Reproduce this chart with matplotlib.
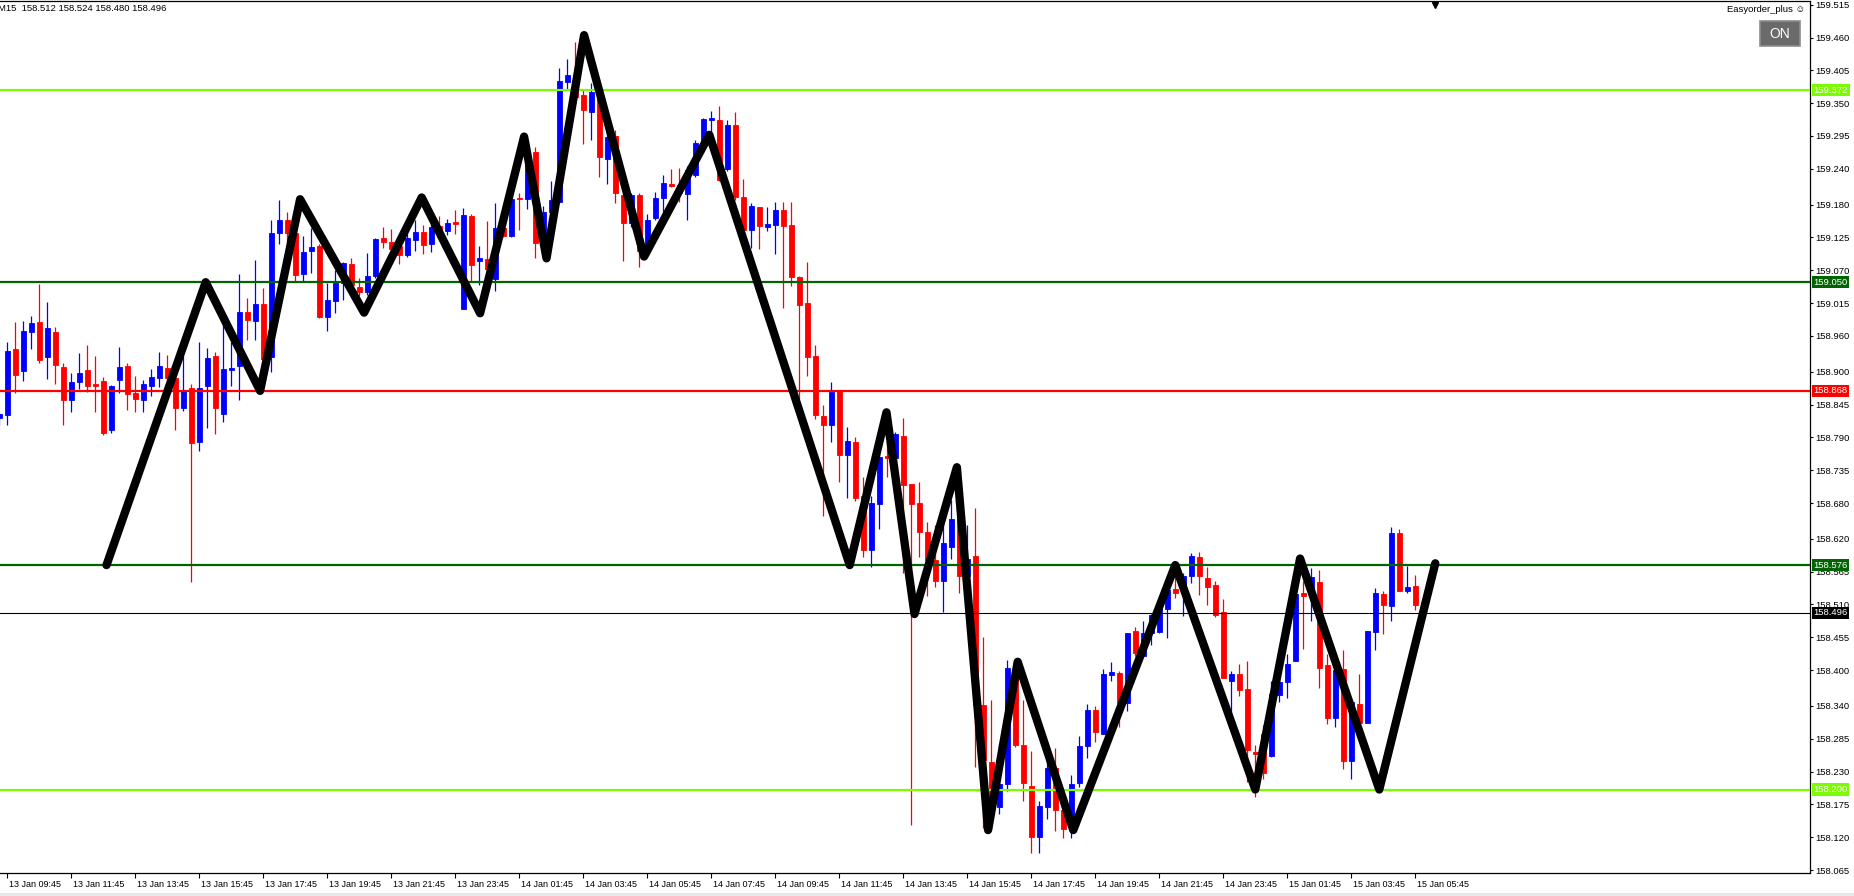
import matplotlib
matplotlib.use('Agg')
import matplotlib.pyplot as plt
import matplotlib.transforms as mtransforms
from matplotlib.patches import Rectangle
import numpy as np

plt.rcParams['font.family'] = ['Liberation Sans', 'DejaVu Sans']

# USDJPY M15 bars, 13 Jan 09:30 .. 15 Jan 06:00
opens = [
    158.822, 158.828, 158.938, 158.901, 158.967, 158.983, 158.925, 158.967, 158.908, 158.853,
    158.882, 158.903, 158.879, 158.885, 158.802, 158.886, 158.910, 158.865, 158.853, 158.876,
    158.889, 158.906, 158.889, 158.839, 158.873, 158.783, 158.876, 158.926, 158.830, 158.903,
    158.910, 159.000, 158.985, 159.014, 158.924, 159.132, 159.154, 159.133, 159.064, 159.102,
    159.111, 158.992, 159.019, 159.049, 159.080, 159.042, 159.034, 159.060, 159.124, 159.117,
    159.111, 159.096, 159.121, 159.134, 159.114, 159.144, 159.136, 159.151, 159.005, 159.161,
    159.086, 159.089, 159.055, 159.141, 159.128, 159.191, 159.190, 159.268, 159.128, 159.167,
    159.185, 159.386, 159.397, 159.364, 159.336, 159.361, 159.257, 159.295, 159.196, 159.150,
    159.196, 159.112, 159.158, 159.191, 159.215, 159.213, 159.198, 159.229, 159.284, 159.321,
    159.322, 159.239, 159.313, 159.193, 159.138, 159.176, 159.143, 159.146, 159.171, 159.146,
    159.059, 159.015, 158.926, 158.826, 158.810, 158.868, 158.761, 158.782, 158.691, 158.602,
    158.679, 158.759, 158.755, 158.792, 158.712, 158.680, 158.632, 158.585, 158.550, 158.606,
    158.657, 158.558, 158.592, 158.342, 158.246, 158.170, 158.209, 158.406, 158.275, 158.206,
    158.121, 158.171, 158.236, 158.166, 158.134, 158.211, 158.273, 158.333, 158.293, 158.392,
    158.395, 158.345, 158.466, 158.424, 158.462, 158.464, 158.503, 158.536, 158.534, 158.557,
    158.590, 158.554, 158.543, 158.497, 158.382, 158.394, 158.368, 158.263, 158.293, 158.256,
    158.358, 158.380, 158.415, 158.529, 158.523, 158.548, 158.409, 158.320, 158.402, 158.247,
    158.343, 158.312, 158.464, 158.528, 158.507, 158.630, 158.533, 158.541, 158.512,
]
highs = [
    158.833, 158.950, 158.983, 158.985, 158.993, 159.047, 159.017, 158.975, 158.915, 158.898,
    158.931, 158.945, 158.926, 158.891, 158.878, 158.941, 158.914, 158.893, 158.886, 158.905,
    158.933, 158.928, 158.892, 158.926, 158.879, 158.950, 158.940, 158.933, 158.978, 158.950,
    159.064, 159.024, 159.087, 159.040, 159.154, 159.188, 159.167, 159.143, 159.127, 159.141,
    159.114, 159.049, 159.070, 159.084, 159.091, 159.057, 159.099, 159.124, 159.143, 159.139,
    159.124, 159.154, 159.154, 159.146, 159.154, 159.161, 159.156, 159.171, 159.174, 159.164,
    159.110, 159.152, 159.183, 159.154, 159.210, 159.199, 159.288, 159.277, 159.177, 159.220,
    159.409, 159.424, 159.453, 159.372, 159.384, 159.367, 159.305, 159.305, 159.199, 159.199,
    159.199, 159.165, 159.201, 159.230, 159.239, 159.241, 159.244, 159.288, 159.325, 159.337,
    159.345, 159.322, 159.336, 159.223, 159.182, 159.176, 159.176, 159.184, 159.184, 159.184,
    159.061, 159.084, 158.945, 158.844, 158.883, 158.868, 158.807, 158.790, 158.723, 158.691,
    158.778, 158.784, 158.799, 158.822, 158.712, 158.716, 158.649, 158.644, 158.647, 158.685,
    158.659, 158.644, 158.671, 158.456, 158.350, 158.276, 158.417, 158.414, 158.350, 158.265,
    158.180, 158.280, 158.270, 158.171, 158.224, 158.289, 158.344, 158.340, 158.402, 158.414,
    158.399, 158.462, 158.472, 158.482, 158.494, 158.518, 158.551, 158.568, 158.562, 158.597,
    158.598, 158.573, 158.549, 158.519, 158.399, 158.410, 158.415, 158.275, 158.308, 158.381,
    158.384, 158.427, 158.528, 158.549, 158.571, 158.568, 158.427, 158.400, 158.434, 158.350,
    158.394, 158.466, 158.538, 158.533, 158.640, 158.636, 158.575, 158.560, 158.524,
]
lows = [
    158.811, 158.811, 158.865, 158.885, 158.938, 158.915, 158.888, 158.879, 158.811, 158.833,
    158.871, 158.866, 158.833, 158.794, 158.798, 158.865, 158.836, 158.833, 158.833, 158.859,
    158.874, 158.874, 158.802, 158.834, 158.548, 158.768, 158.805, 158.796, 158.815, 158.876,
    158.852, 158.953, 158.953, 158.920, 158.900, 159.114, 159.115, 159.052, 159.052, 159.065,
    158.990, 158.968, 158.998, 159.020, 159.042, 159.027, 159.029, 159.057, 159.107, 159.096,
    159.080, 159.092, 159.102, 159.097, 159.101, 159.129, 159.129, 159.131, 159.005, 159.051,
    159.045, 159.051, 159.036, 159.125, 159.126, 159.138, 159.173, 159.090, 159.096, 159.143,
    159.182, 159.373, 159.350, 159.282, 159.288, 159.227, 159.215, 159.182, 159.085, 159.143,
    159.076, 159.098, 159.154, 159.168, 159.210, 159.185, 159.154, 159.227, 159.283, 159.301,
    159.219, 159.237, 159.188, 159.132, 159.107, 159.106, 159.135, 159.097, 159.006, 159.044,
    158.855, 158.893, 158.820, 158.659, 158.783, 158.716, 158.688, 158.683, 158.589, 158.573,
    158.637, 158.724, 158.749, 158.563, 158.140, 158.590, 158.524, 158.539, 158.497, 158.586,
    158.530, 158.557, 158.238, 158.135, 158.150, 158.159, 158.198, 158.272, 158.181, 158.094,
    158.094, 158.151, 158.131, 158.119, 158.119, 158.205, 158.252, 158.280, 158.293, 158.381,
    158.305, 158.332, 158.423, 158.424, 158.442, 158.462, 158.454, 158.521, 158.490, 158.546,
    158.526, 158.509, 158.489, 158.387, 158.328, 158.357, 158.212, 158.188, 158.218, 158.255,
    158.346, 158.353, 158.415, 158.436, 158.483, 158.370, 158.310, 158.305, 158.235, 158.218,
    158.312, 158.312, 158.434, 158.461, 158.482, 158.533, 158.529, 158.501, 158.480,
]
closes = [
    158.830, 158.934, 158.895, 158.968, 158.982, 158.920, 158.973, 158.911, 158.852, 158.883,
    158.898, 158.876, 158.876, 158.797, 158.876, 158.908, 158.863, 158.854, 158.879, 158.891,
    158.910, 158.889, 158.839, 158.869, 158.781, 158.873, 158.923, 158.839, 158.905, 158.906,
    159.000, 158.987, 159.014, 158.922, 159.132, 159.154, 159.132, 159.062, 159.101, 159.109,
    158.992, 159.020, 159.049, 159.082, 159.045, 159.034, 159.060, 159.122, 159.117, 159.106,
    159.096, 159.124, 159.134, 159.112, 159.143, 159.137, 159.149, 159.148, 159.163, 159.079,
    159.091, 159.072, 159.141, 159.128, 159.190, 159.190, 159.269, 159.116, 159.167, 159.188,
    159.387, 159.397, 159.360, 159.338, 159.369, 159.260, 159.294, 159.200, 159.150, 159.196,
    159.103, 159.154, 159.191, 159.217, 159.212, 159.199, 159.238, 159.284, 159.323, 159.325,
    159.221, 159.313, 159.193, 159.138, 159.177, 159.145, 159.148, 159.171, 159.145, 159.059,
    159.011, 158.925, 158.828, 158.810, 158.866, 158.761, 158.784, 158.688, 158.602, 158.680,
    158.757, 158.756, 158.796, 158.711, 158.679, 158.632, 158.585, 158.550, 158.613, 158.654,
    158.558, 158.587, 158.342, 158.250, 158.171, 158.209, 158.404, 158.275, 158.211, 158.121,
    158.172, 158.236, 158.166, 158.134, 158.209, 158.273, 158.333, 158.297, 158.394, 158.397,
    158.345, 158.462, 158.429, 158.462, 158.492, 158.512, 158.534, 158.530, 158.557, 158.591,
    158.558, 158.540, 158.492, 158.387, 158.394, 158.367, 158.266, 158.260, 158.227, 158.360,
    158.380, 158.410, 158.528, 158.524, 158.556, 158.404, 158.320, 158.400, 158.248, 158.347,
    158.312, 158.466, 158.529, 158.509, 158.630, 158.533, 158.539, 158.509, 158.496,
]

time_labels = [
    '13 Jan 09:45', '13 Jan 11:45', '13 Jan 13:45', '13 Jan 15:45', '13 Jan 17:45',
    '13 Jan 19:45', '13 Jan 21:45', '13 Jan 23:45', '14 Jan 01:45', '14 Jan 03:45',
    '14 Jan 05:45', '14 Jan 07:45', '14 Jan 09:45', '14 Jan 11:45', '14 Jan 13:45',
    '14 Jan 15:45', '14 Jan 17:45', '14 Jan 19:45', '14 Jan 21:45', '14 Jan 23:45',
    '15 Jan 01:45', '15 Jan 03:45', '15 Jan 05:45',
]

price_ticks = [
    159.515, 159.460, 159.405, 159.350, 159.295, 159.240, 159.180, 159.125, 159.070,
    159.015, 158.960, 158.900, 158.845, 158.790, 158.735, 158.680, 158.620, 158.565,
    158.510, 158.455, 158.400, 158.340, 158.285, 158.230, 158.175, 158.120, 158.065,
]

# zigzag swing points (bar position, price)
zz_bar = [13.4, 25.8, 32.6, 37.6, 45.6, 52.8, 60.1, 65.6, 68.4, 73.1, 80.6, 88.75,
          106.3, 110.9, 114.4, 119.7, 123.6, 127.3, 134.25, 147.0, 157.0, 162.6,
          172.5, 179.5]
zz_price = [158.576, 159.050, 158.868, 159.189, 158.999, 159.192, 158.998, 159.294,
            159.090, 159.464, 159.093, 159.297, 158.576, 158.832, 158.494, 158.740,
            158.132, 158.414, 158.132, 158.576, 158.200, 158.587, 158.200, 158.579]

# horizontal levels
level_prices = [159.372, 159.050, 158.868, 158.576, 158.200]
level_colors = ['#7cfc00', '#006400', '#ff0000', '#006400', '#7cfc00']
bid_price = closes[-1]

W, H = 1854, 896
fig = plt.figure(figsize=(W / 100, H / 100), dpi=100)
ax = fig.add_axes([0, (H - 873.3) / H, 1810 / W, 872.3 / H])

o = np.array(opens)
h = np.array(highs)
l = np.array(lows)
c = np.array(closes)
bars = np.arange(len(o))
col = np.where(c >= o, '#0000ff', '#ff0000')

ax.vlines(bars, l, h, colors=col, lw=0.9, zorder=2)
ax.bar(bars, np.abs(c - o), bottom=np.minimum(o, c), width=0.62,
       color=col, edgecolor=col, linewidth=0.6, zorder=3)

for p, clr in zip(level_prices, level_colors):
    ax.axhline(p, color=clr, lw=1.6, zorder=4)
ax.axhline(bid_price, color='black', lw=0.8, zorder=4)

ax.plot(zz_bar, zz_price, color='black', lw=6, solid_joinstyle='round',
        solid_capstyle='round', zorder=6)

ax.set_xlim(0.0875, 226.34)
ax.set_ylim(158.0596, 159.5212)

# price scale on the right
ax.yaxis.tick_right()
ax.set_yticks(price_ticks)
ax.set_yticklabels([f'{t:.3f}' for t in price_ticks])
ax.tick_params(axis='y', direction='out', length=2.4, width=0.8, pad=1.6,
               labelsize=6.8, right=True, left=False)

label_bars = np.arange(1, len(o), 8)
ax.set_xticks(label_bars)
ax.set_xticklabels(time_labels)
ax.tick_params(axis='x', direction='out', length=3.5, width=0.8, pad=1.0, labelsize=6.5)
shift = mtransforms.ScaledTranslation(2 / 100, 0, fig.dpi_scale_trans)
for lab in ax.get_xticklabels():
    lab.set_horizontalalignment('left')
    lab.set_transform(lab.get_transform() + shift)

for side in ['top', 'right', 'bottom']:
    ax.spines[side].set_linewidth(0.9)
ax.spines['left'].set_visible(False)

# level tags on the price scale
tag = mtransforms.blended_transform_factory(ax.transAxes, ax.transData)
for p, clr in zip(level_prices + [bid_price], level_colors + ['black']):
    ax.text(1.0019, p, f'{p:.3f}', transform=tag, ha='left', va='center',
            fontsize=6.8, color='white', clip_on=False, zorder=10,
            bbox=dict(boxstyle='square,pad=0.18', fc=clr, ec='none'))

# chart shift marker
ax.plot([1435 / 1810], [0.995], marker='v', color='black', markersize=5,
        transform=ax.transAxes, clip_on=False, zorder=10)

# header and panel widgets
fig.text(-2 / W, 1 - 8.3 / H,
         f'M15  {opens[-1]:.3f} {highs[-1]:.3f} {lows[-1]:.3f} {closes[-1]:.3f}',
         ha='left', va='center', fontsize=6.8)
fig.text(1805 / W, 1 - 10 / H, 'Easyorder_plus \u263a', ha='right', va='center',
         fontsize=6.8)
fig.patches.append(Rectangle((1760 / W, 1 - 46 / H), 40 / W, 25 / H,
                             transform=fig.transFigure, fc='#6a6a6a', ec='#8e8e8e',
                             lw=1.2))
fig.text(1780 / W, 1 - 33.5 / H, 'ON', ha='center', va='center', fontsize=10,
         color='white')
fig.patches.append(Rectangle((0, 0), 1, 2.7 / H, transform=fig.transFigure,
                             fc='#e8e8e8', ec='none'))

fig.savefig('out.png', dpi=100)
